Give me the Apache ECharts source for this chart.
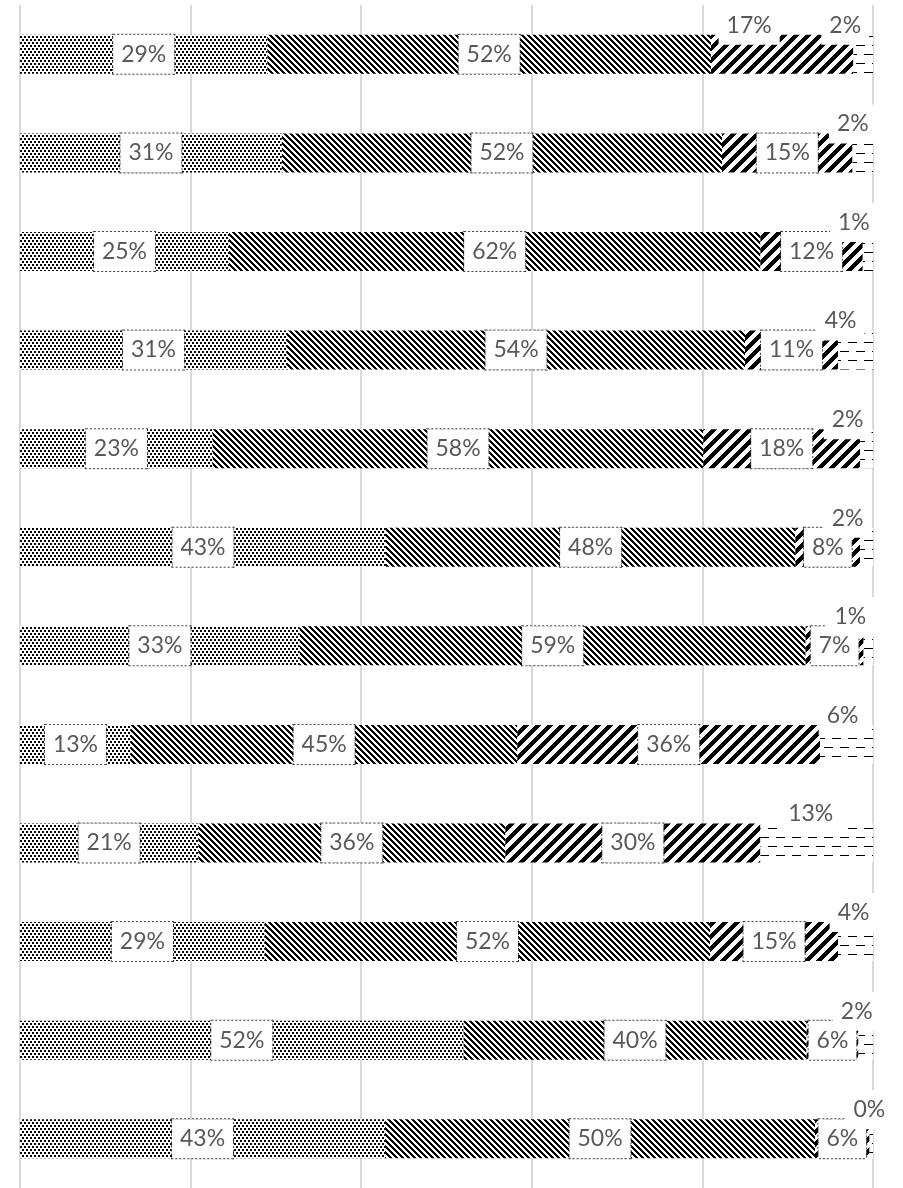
<!DOCTYPE html>
<html>
<head>
<meta charset="utf-8">
<script src="https://cdn.jsdelivr.net/npm/echarts@6/dist/echarts.min.js"></script>
<style>
html,body{margin:0;padding:0;background:#fff;}
#chart{width:903px;height:1188px;}
</style>
</head>
<body>
<div id="chart"></div>
<script>
// ---- Data (top row first) ----
const categories = ['1','2','3','4','5','6','7','8','9','10','11','12'];
const seriesDots  = [29.0, 30.7, 24.5, 31.3, 22.6, 42.9, 32.8, 13.0, 20.9, 28.7, 52.0, 42.8];
const seriesDiag  = [52.0, 51.6, 62.3, 53.7, 57.5, 48.0, 59.3, 45.3, 36.0, 52.2, 40.2, 50.4];
const seriesSlash = [16.7, 15.3, 12.0, 10.9, 18.4,  7.6,  6.8, 35.5, 29.9, 15.0,  6.1,  6.4];
const seriesDash  = [ 2.3,  2.4,  1.2,  4.1,  1.5,  1.5,  1.1,  6.2, 13.2,  4.1,  1.7,  0.4];
const xTicks = [0, 20, 40, 60, 80, 100];

// label offsets for labels moved above the bars
const dashLabelDx = [-18, -10, -14, -15, -19, -19, -18, -4, -6, -2, -9, -2];
const labelDy = -29;

// ---- Pattern tiles ----
function tile(w, h, fn) {
  const c = document.createElement('canvas');
  c.width = w; c.height = h;
  const ctx = c.getContext('2d');
  const img = ctx.createImageData(w, h);
  for (let y = 0; y < h; y++) for (let x = 0; x < w; x++) {
    const k = (y * w + x) * 4;
    const v = fn(x, y) ? 0 : 255;
    img.data[k] = v; img.data[k+1] = v; img.data[k+2] = v; img.data[k+3] = 255;
  }
  ctx.putImageData(img, 0, 0);
  return c;
}
const dotTile = tile(4, 6, (x, y) => (x < 2 && y < 2) || (x >= 2 && y >= 3 && y < 5));
const diagTile = tile(6, 6, (x, y) => ((x - y + 12) % 6) < 3);
const slashTile = tile(12, 12, (x, y) => ((x + y) % 12) < 6);
const dashTile = tile(16, 18, (x, y) => (y === 0 && x < 9) || (y === 9 && (x >= 8 || x < 1)));

const labelBase = {
  show: true,
  position: 'inside',
  formatter: p => Math.round(p.value) + '%',
  color: '#595959',
  fontFamily: 'Lato',
  fontSize: 23,
  lineHeight: 22,
  backgroundColor: '#ffffff',
  borderColor: '#404040',
  borderWidth: 1,
  borderType: [2, 2],
  padding: [9, 8, 8, 8]
};
const aboveLabel = (dx) => ({ offset: [dx, labelDy], borderWidth: 0 });

function mk(name, values, tileCanvas, labelFor) {
  return {
    name: name,
    type: 'bar',
    stack: 'total',
    barWidth: 39,
    itemStyle: { color: { image: tileCanvas, repeat: 'repeat' } },
    label: labelBase,
    data: values.map((v, i) => {
      const o = { value: v };
      const l = labelFor ? labelFor(i) : null;
      if (l) o.label = l;
      return o;
    })
  };
}

const option = {
  animation: false,
  backgroundColor: '#ffffff',
  grid: { left: 20, right: 30, top: 5, bottom: 0, containLabel: false },
  xAxis: {
    type: 'value',
    min: xTicks[0], max: xTicks[xTicks.length - 1], interval: 20,
    axisLabel: { show: false },
    axisLine: { show: false },
    axisTick: { show: false },
    splitLine: { show: true, lineStyle: { color: '#d9d9d9', width: 2 } }
  },
  yAxis: {
    type: 'category',
    data: categories,
    inverse: true,
    axisLabel: { show: false },
    axisLine: { show: false },
    axisTick: { show: false },
    splitLine: { show: false }
  },
  series: [
    mk('A', seriesDots, dotTile),
    mk('B', seriesDiag, diagTile),
    mk('C', seriesSlash, slashTile, i => i === 0 ? aboveLabel(-33) : null),
    mk('D', seriesDash, dashTile, i => aboveLabel(dashLabelDx[i]))
  ]
};

const chart = echarts.init(document.getElementById('chart'), null, { renderer: 'canvas' });
chart.setOption(option);
</script>
</body>
</html>
